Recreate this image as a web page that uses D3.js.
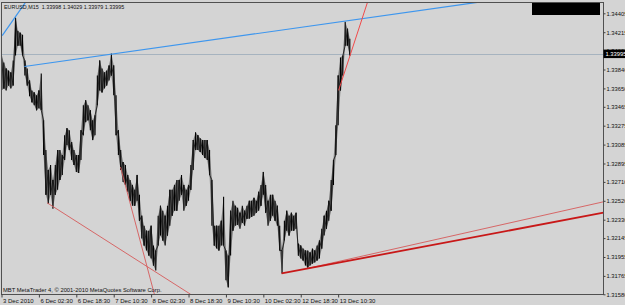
<!DOCTYPE html>
<html><head><meta charset="utf-8">
<script src="https://cdn.jsdelivr.net/npm/d3@7"></script>
<style>html,body{margin:0;padding:0;background:#d4d4d4;overflow:hidden}svg{display:block}</style>
</head><body><svg id="c" width="625" height="305"></svg>
<script>
// ---- data ----
const symbolTitle = "EURUSD,M15";
const ohlcValues = ["1.33998", "1.34029", "1.33979", "1.33995"];
const lastPrice = 1.33995;
const copyrightText = "MBT MetaTrader 4, \u00A9 2001-2010 MetaQuotes Software Corp.";
const priceTicks = [1.34405,1.34215,1.34030,1.33840,1.33650,1.33465,1.33275,1.33085,1.32895,1.32710,1.32520,1.32330,1.32145,1.31955,1.31765,1.31580];
const timeLabels = ["3 Dec 2010","6 Dec 02:30","6 Dec 18:30","7 Dec 10:30","8 Dec 02:30","8 Dec 18:30","9 Dec 10:30","10 Dec 02:30","12 Dec 18:30","13 Dec 10:30"];
const timeLabelHours = [0,16,32,48,64,80,96,112,128,144];
// hourly high / low (index = hour from 3 Dec 10:30)
const highs = [1.3398,1.3391,1.3385,1.3383,1.3381,1.3393,1.3436,1.3423,1.3421,1.3419,
1.3393,1.3385,1.3373,1.3363,1.3361,1.3358,1.3363,1.3380,1.3333,1.3303,
1.3283,1.3288,1.3273,1.3288,1.3303,1.3303,1.3298,1.3318,1.3325,1.3323,
1.3311,1.3303,1.3298,1.3298,1.3323,1.3348,1.3353,1.3348,1.3343,1.3333,
1.3338,1.3378,1.3393,1.3385,1.3381,1.3383,1.3388,1.3400,1.3388,1.3358,
1.3323,1.3303,1.3291,1.3288,1.3278,1.3273,1.3268,1.3263,1.3278,1.3258,
1.3237,1.3227,1.3222,1.3222,1.3227,1.3207,1.3202,1.3237,1.3247,1.3242,
1.3237,1.3247,1.3263,1.3263,1.3268,1.3273,1.3273,1.3278,1.3268,1.3263,
1.3268,1.3288,1.3313,1.3321,1.3318,1.3315,1.3313,1.3313,1.3313,1.3303,
1.3273,1.3227,1.3227,1.3227,1.3232,1.3256,1.3202,1.3197,1.3242,1.3252,
1.3247,1.3245,1.3240,1.3247,1.3242,1.3247,1.3252,1.3252,1.3255,1.3252,
1.3261,1.3268,1.3281,1.3268,1.3252,1.3258,1.3258,1.3252,1.3247,1.3227,
1.3202,1.3232,1.3242,1.3237,1.3240,1.3237,1.3240,1.3209,1.3207,1.3204,
1.3202,1.3202,1.3200,1.3204,1.3202,1.3207,1.3212,1.3224,1.3237,1.3242,
1.3252,1.3273,1.3293,1.3328,1.3378,1.3396,1.3398,1.3432,1.3425,1.3415];
const lows = [1.3363,1.3365,1.3363,1.3368,1.3365,1.3368,1.3398,1.3408,1.3408,1.3398,
1.3378,1.3368,1.3357,1.3351,1.3348,1.3343,1.3345,1.3343,1.3298,1.3258,
1.3249,1.3258,1.3244,1.3258,1.3263,1.3273,1.3278,1.3293,1.3308,1.3303,
1.3293,1.3288,1.3281,1.3280,1.3293,1.3318,1.3331,1.3333,1.3323,1.3313,
1.3318,1.3348,1.3363,1.3361,1.3365,1.3368,1.3373,1.3378,1.3358,1.3318,
1.3298,1.3283,1.3271,1.3268,1.3261,1.3252,1.3247,1.3247,1.3252,1.3232,
1.3214,1.3207,1.3202,1.3197,1.3194,1.3187,1.3182,1.3207,1.3217,1.3212,
1.3207,1.3217,1.3227,1.3237,1.3242,1.3242,1.3252,1.3258,1.3242,1.3247,
1.3252,1.3263,1.3283,1.3303,1.3303,1.3301,1.3298,1.3295,1.3293,1.3278,
1.3227,1.3207,1.3204,1.3202,1.3207,1.3207,1.3172,1.3165,1.3197,1.3222,
1.3227,1.3228,1.3224,1.3230,1.3227,1.3234,1.3234,1.3236,1.3237,1.3240,
1.3242,1.3247,1.3258,1.3240,1.3227,1.3232,1.3237,1.3232,1.3227,1.3202,
1.3179,1.3212,1.3222,1.3217,1.3222,1.3222,1.3224,1.3197,1.3194,1.3192,
1.3187,1.3185,1.3187,1.3189,1.3190,1.3192,1.3194,1.3204,1.3217,1.3224,
1.3232,1.3242,1.3268,1.3298,1.3328,1.3363,1.3378,1.3408,1.3408,1.3398];
// trend lines: [[hour, price], [hour, price]]
const blueTrendLines = [
  [[0.3, 1.3418], [10.7, 1.3453]],
  [[9.8, 1.3387], [205.0, 1.3452]]
];
const redThinTrendLines = [
  [[19.5, 1.3250], [80.9, 1.3158]],
  [[50.9, 1.3286], [65.4, 1.3158]],
  [[130.9, 1.3184], [257.5, 1.3251]]
];
const redSteepTrendLines = [
  [[144.2, 1.3363], [156.6, 1.3452]]
];
const redThickTrendLines = [
  [[119.8, 1.3179], [257.5, 1.3240]]
];

// ---- drawing ----
const svg = d3.select("#c");
const W = 625, H = 305;
const plot = {left: 1.5, top: 2.5, right: 603.5, bottom: 294.5};
const x = d3.scaleLinear().domain([0, 257.5]).range([1.5, 603.5]);
const y = d3.scaleLinear().domain([1.34405, 1.31580]).range([13.3, 294.3]);
const font = "'Liberation Sans', Arial, sans-serif";

svg.append("rect").attr("width", W).attr("height", H).attr("fill", "#d4d4d4");

svg.append("defs").append("clipPath").attr("id", "clip")
  .append("rect").attr("x", plot.left).attr("y", plot.top)
  .attr("width", plot.right - plot.left).attr("height", plot.bottom - plot.top);

const g = svg.append("g").attr("clip-path", "url(#clip)");

// current price dotted line
g.append("line")
  .attr("x1", plot.left).attr("x2", plot.right)
  .attr("y1", Math.round(y(lastPrice)) + 0.5).attr("y2", Math.round(y(lastPrice)) + 0.5)
  .attr("stroke", "#7893aa").attr("stroke-width", 1).attr("stroke-dasharray", "1,1");

// price series
const idx = d3.range(highs.length);
const area = d3.area().x(i => x(i)).y0(i => y(lows[i])).y1(i => y(highs[i]));
g.append("path").attr("d", area(idx)).attr("fill", "#5a5a5a").attr("fill-opacity", 0.75);
g.selectAll("line.bar").data(idx).join("line").attr("class", "bar")
  .attr("x1", i => x(i)).attr("x2", i => x(i))
  .attr("y1", i => y(highs[i])).attr("y2", i => y(lows[i]))
  .attr("stroke", "#000").attr("stroke-width", 1.1);
// zigzag connector between bars
const zig = [];
idx.forEach(i => { zig.push([x(i), y(i % 2 ? lows[i] : highs[i])]); });
g.append("path").attr("d", d3.line()(zig)).attr("fill", "none").attr("stroke", "#111").attr("stroke-width", 0.8);

function drawLines(data, color, width) {
  g.selectAll(null).data(data).join("line")
    .attr("x1", d => x(d[0][0])).attr("y1", d => y(d[0][1]))
    .attr("x2", d => x(d[1][0])).attr("y2", d => y(d[1][1]))
    .attr("stroke", color).attr("stroke-width", width);
}
drawLines(blueTrendLines, "#3d96ee", 1.2);
drawLines(redThinTrendLines, "#d65a5a", 0.9);
drawLines(redSteepTrendLines, "#f04a4a", 1);
drawLines(redThickTrendLines, "#c81818", 1.8);

// frame
svg.append("rect")
  .attr("x", plot.left).attr("y", plot.top)
  .attr("width", plot.right - plot.left).attr("height", plot.bottom - plot.top)
  .attr("fill", "none").attr("stroke", "#505050").attr("stroke-width", 1);

// price axis
const yAxis = svg.append("g").attr("transform", `translate(${plot.right},0)`)
  .call(d3.axisRight(y).tickValues(priceTicks).tickSize(2).tickPadding(1).tickFormat(d3.format(".5f")));
yAxis.select(".domain").remove();
yAxis.selectAll("line").attr("stroke", "#404040");
yAxis.selectAll("text").attr("font-family", font).attr("font-size", "5.8px").attr("fill", "#111");

// time axis
const xAxis = svg.append("g").attr("transform", `translate(0,${plot.bottom})`)
  .call(d3.axisBottom(x).tickValues(timeLabelHours).tickSize(3)
    .tickFormat((d, i) => timeLabels[i]));
xAxis.select(".domain").remove();
xAxis.selectAll("line").attr("stroke", "#404040");
xAxis.selectAll("text").attr("font-family", font).attr("font-size", "6px").attr("fill", "#111")
  .attr("text-anchor", "start").attr("dx", "1").attr("y", 4).attr("dy", "0.71em");

// last price label
const ly = y(lastPrice);
svg.append("rect").attr("x", plot.right).attr("y", ly - 4.5).attr("width", 22).attr("height", 8.5).attr("fill", "#000");
svg.append("text").attr("x", plot.right + 2).attr("y", ly + 2.2)
  .attr("font-family", font).attr("font-size", "5.8px").attr("fill", "#fff").text(d3.format(".5f")(lastPrice));

// black box top right
svg.append("rect").attr("x", 532).attr("y", 3).attr("width", 68).attr("height", 12).attr("fill", "#000");

// title
svg.append("text").attr("x", 4).attr("y", 8.5).attr("font-family", font).attr("font-size", "5.4px").attr("fill", "#111")
  .attr("xml:space", "preserve").text(symbolTitle + "  " + ohlcValues.join(" "));

// copyright
svg.append("text").attr("x", 3).attr("y", 292).attr("font-family", font).attr("font-size", "5.8px").attr("fill", "#111")
  .text(copyrightText);
</script></body></html>
